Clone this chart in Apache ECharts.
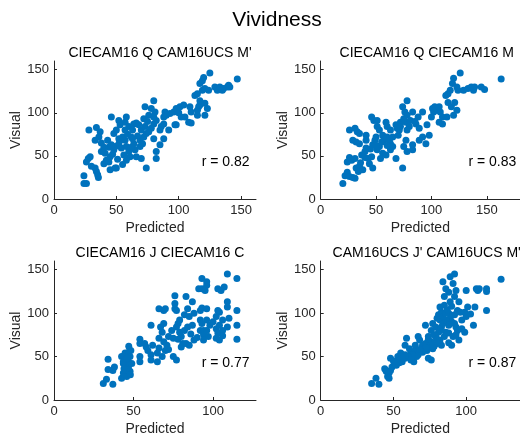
<!DOCTYPE html>
<html>
<head>
<meta charset="utf-8">
<script src="https://cdn.jsdelivr.net/npm/echarts@6/dist/echarts.min.js"></script>
<style>html,body{margin:0;padding:0;background:#fff}#c{width:520px;height:439px}</style>
</head>
<body>
<div id="c"></div>
<script>
var mainTitle = 'Vividness';
var panelTitles = ['CIECAM16 Q CAM16UCS M\'', 'CIECAM16 Q CIECAM16 M', 'CIECAM16 J CIECAM16 C', 'CAM16UCS J\' CAM16UCS M\''];
var rLabels = ['r = 0.82', 'r = 0.83', 'r = 0.77', 'r = 0.87'];
var xMax = [162, 180, 127, 137];
var yMax = [160, 160, 160, 160];
var xTicks = [[0, 50, 100, 150], [0, 50, 100, 150], [0, 50, 100], [0, 50, 100]];
var yTicks = [0, 50, 100, 150];

// Panel 1: CIECAM16 Q CAM16UCS M'
var p1Pred = [24,26,24,26,27.5,29,28,33,34,35.6,35,34,37,36,38,33,40,42,45,41,46,48,49,45,50,43,48,50,49,52,53,54,52,53,57,57,58,60,61,58,62,64,65,66,69,60,64,69,72,74,70,73,72,73,76,70,74,80,78,81,82,80,78,80,82,82,85,86,88,89,88,85,88,90,93,96,97,98,98,101,104,102,105,109,110,108,110,115,116,117,115,113,115,117,119,120,119,121,117,121,123,121,125,124,129,131,133,136,139,140,141,135,147,44,47,55,59,63,67,56,62,38,44,51,66,71,76,58,40,46,52,57,63,68,75,80,92,100,55,30];
var p1Vis  = [18,18,27,43,47,49,80,36,32,25,28,83,78,72,65,68,41,45,49,53,95,57,36,34,36,68,76,80,61,64,68,59,91,86,89,68,61,55,49,45,72,64,57,49,61,84,87,68,72,76,80,84,93,107,97,47,36,114,105,101,91,87,82,70,55,47,80,84,87,101,95,63,70,97,99,101,86,86,105,107,109,95,95,107,101,89,88,103,107,109,97,120,122,134,137,141,126,128,114,111,105,97,146,126,130,126,130,128,130,132,130,126,139,60,52,72,75,80,73,51,60,55,43,46,88,64,78,95,60,63,70,80,70,86,90,95,80,100,40,38];

// Panel 2: CIECAM16 Q CIECAM16 M
var p2Pred = [20,22,24,26,29,31,24,26,28,31,26,31,33,29,32,35,32,35,34,38,37,40,41,43,44,35,41,41,46,48,51,47,49,50,47,46,51,53,56,57,51,53,56,54,59,60,62,63,65,63,59,60,63,68,69,71,68,74,72,74,76,75,78,78,77,80,81,78,77,75,78,83,83,83,86,89,92,89,92,95,96,98,101,103,105,107,108,107,110,102,110,114,115,118,121,123,120,113,115,117,119,120,123,126,124,129,133,136,139,145,148,138,163,45,50,55,60,65,70,72,85,88,100,40,36];
var p2Vis  = [18,27,31,26,25,24,43,48,45,47,80,82,78,68,66,64,36,38,32,34,51,55,59,47,41,76,74,68,95,91,84,63,68,72,36,49,91,80,74,68,57,61,53,47,51,72,68,64,61,57,89,84,80,86,82,80,47,36,89,107,101,93,114,97,89,84,91,80,68,61,55,57,63,101,87,82,101,68,72,64,86,74,105,107,103,107,101,89,87,101,95,95,112,107,112,103,97,120,122,126,134,140,130,146,126,126,128,130,130,130,127,126,139,58,62,66,62,72,74,84,90,95,95,48,42];

// Panel 3: CIECAM16 J CIECAM16 C
var p3Pred = [31,33,34,34,37,37,38,42.5,43.6,44.7,45.7,46.8,42.5,44.7,46.8,47.8,43.6,45.7,47.8,46.8,43.6,45.3,48.9,48.3,47,54,54,54,54,58,59,57,61,62,61,61,65,65,66,69,70,67,69,68,66,69,71,70,68,72,74,75,75,77,76,76,76,77,77,78,79,79,80,81,82,80,83,87,84,82,85,88,84,87,83,85,88,92,93,92,93,92,94,94,91,93,93,96,96,95,96,96,96,97,94,103,103,104,102,105,107,102,103,102,104,106,109,106,109,109,109,110,115,115,115,115,44,46,48,66,72,78,86,90,98,100,104,106];
var p3Vis  = [19,24,35,47,18,34,38,25,31,34,40,44,50,54,55,50,42,27,33,38,44,47,42,57,62,70,65,50,44,61,57,65,86,63,52,46,54,44,105,103,105,84,88,78,71,67,63,57,50,73,80,71,50,46,120,111,105,103,84,88,92,78,73,65,80,61,119,113,105,98,96,100,84,86,65,63,69,103,106,92,88,80,80,75,128,140,128,132,136,126,105,92,80,73,69,128,103,101,96,126,130,82,77,71,69,80,84,92,145,113,107,94,140,103,86,70,36,48,29,60,58,70,76,72,86,90,86,74];

// Panel 4: CAM16UCS J' CAM16UCS M'
var p4Pred = [35,40,38,44,45,47,48,49,46,47,48,51,53,54,55,56,58,59,58,61,62,63,64,65,67,65,67,68,70,72,72,74,76,73,75,77,74,76,77,79,79,81,80,81,82,83,82,83,83,82,85,88,84,85,86,88,89,92,91,93,92,89,88,89,90,92,94,95,93,94,91,93,95,90,96,99,100,101,103,97,99,97,100,105,106,107,109,108,114,114,114,124,78,80,82,84,86,84,86,88,80,78,76,74,72,70,68,66,63,60,58,56,54,52,50,62,87,85,90,92,86,88];
var p4Vis  = [19,18,25,36,33,31,34,38,27,25,48,42,50,46,54,44,48,71,63,59,54,48,44,57,52,63,73,69,63,86,65,48,46,57,61,59,73,80,88,84,73,78,94,98,92,101,107,84,63,69,73,77,136,119,128,124,142,145,134,126,119,113,100,94,90,98,103,113,84,80,73,75,69,63,101,101,96,107,99,82,78,92,126,86,107,128,128,126,128,125,103,139,75,70,80,88,92,96,100,86,65,62,67,70,60,55,58,50,52,50,52,48,43,40,45,46,104,109,108,88,78,66];

var preds = [p1Pred, p2Pred, p3Pred, p4Pred];
var viss = [p1Vis, p2Vis, p3Vis, p4Vis];

var FONT = '"Liberation Sans", Arial, Helvetica, sans-serif';
var AX = '#262626';
var grids = [
  {left: 54, top: 61, width: 202, height: 138},
  {left: 320.7, top: 61, width: 202, height: 138},
  {left: 54, top: 261, width: 202, height: 139},
  {left: 320.7, top: 261, width: 202, height: 139}
];

function pairs(xs, ys) {
  var out = [];
  for (var i = 0; i < xs.length; i++) out.push([xs[i], ys[i]]);
  return out;
}

var option = {
  animation: false,
  backgroundColor: '#fff',
  title: [{
    text: mainTitle, left: 272, top: 5, textAlign: 'center',
    textStyle: {fontFamily: FONT, fontSize: 21, fontWeight: 'normal', color: '#000'}
  }].concat(panelTitles.map(function (t, i) {
    return {
      text: t, left: grids[i].left + 101, top: grids[i].top - 20, textAlign: 'center',
      textStyle: {fontFamily: FONT, fontSize: 14, fontWeight: 'normal', color: '#000'}
    };
  })),
  grid: grids.map(function (g) { return Object.assign({containLabel: false}, g); }),
  xAxis: grids.map(function (g, i) {
    return {
      gridIndex: i, type: 'value', min: 0, max: xMax[i],
      name: 'Predicted', nameLocation: 'middle', nameGap: 22,
      nameTextStyle: {fontFamily: FONT, fontSize: 14, color: AX},
      axisLine: {show: true, onZero: false, lineStyle: {color: AX, width: 1}},
      axisTick: {show: true, inside: true, length: 3, customValues: xTicks[i], lineStyle: {color: AX}},
      axisLabel: {customValues: xTicks[i], fontFamily: FONT, fontSize: 13, color: AX, margin: 5},
      splitLine: {show: false}
    };
  }),
  yAxis: grids.map(function (g, i) {
    return {
      gridIndex: i, type: 'value', min: 0, max: yMax[i],
      name: 'Visual', nameLocation: 'middle', nameGap: 31, nameRotate: 90,
      nameTextStyle: {fontFamily: FONT, fontSize: 14, color: AX},
      axisLine: {show: true, onZero: false, lineStyle: {color: AX, width: 1}},
      axisTick: {show: true, inside: true, length: 3, customValues: yTicks, lineStyle: {color: AX}},
      axisLabel: {customValues: yTicks, fontFamily: FONT, fontSize: 13, color: AX, margin: 5},
      splitLine: {show: false}
    };
  }),
  series: preds.map(function (p, i) {
    return {
      type: 'scatter', xAxisIndex: i, yAxisIndex: i,
      data: pairs(p, viss[i]), symbolSize: 7,
      itemStyle: {color: '#0072BD', opacity: 1}
    };
  }),
  graphic: rLabels.map(function (t, i) {
    return {
      type: 'text', left: grids[i].left + 147.7, top: grids[i].top + (i < 2 ? 94 : 95),
      style: {text: t, fontFamily: FONT, fontSize: 14, fill: '#000'}
    };
  })
};

var chart = echarts.init(document.getElementById('c'), null, {renderer: 'canvas'});
chart.setOption(option);
</script>
</body>
</html>
